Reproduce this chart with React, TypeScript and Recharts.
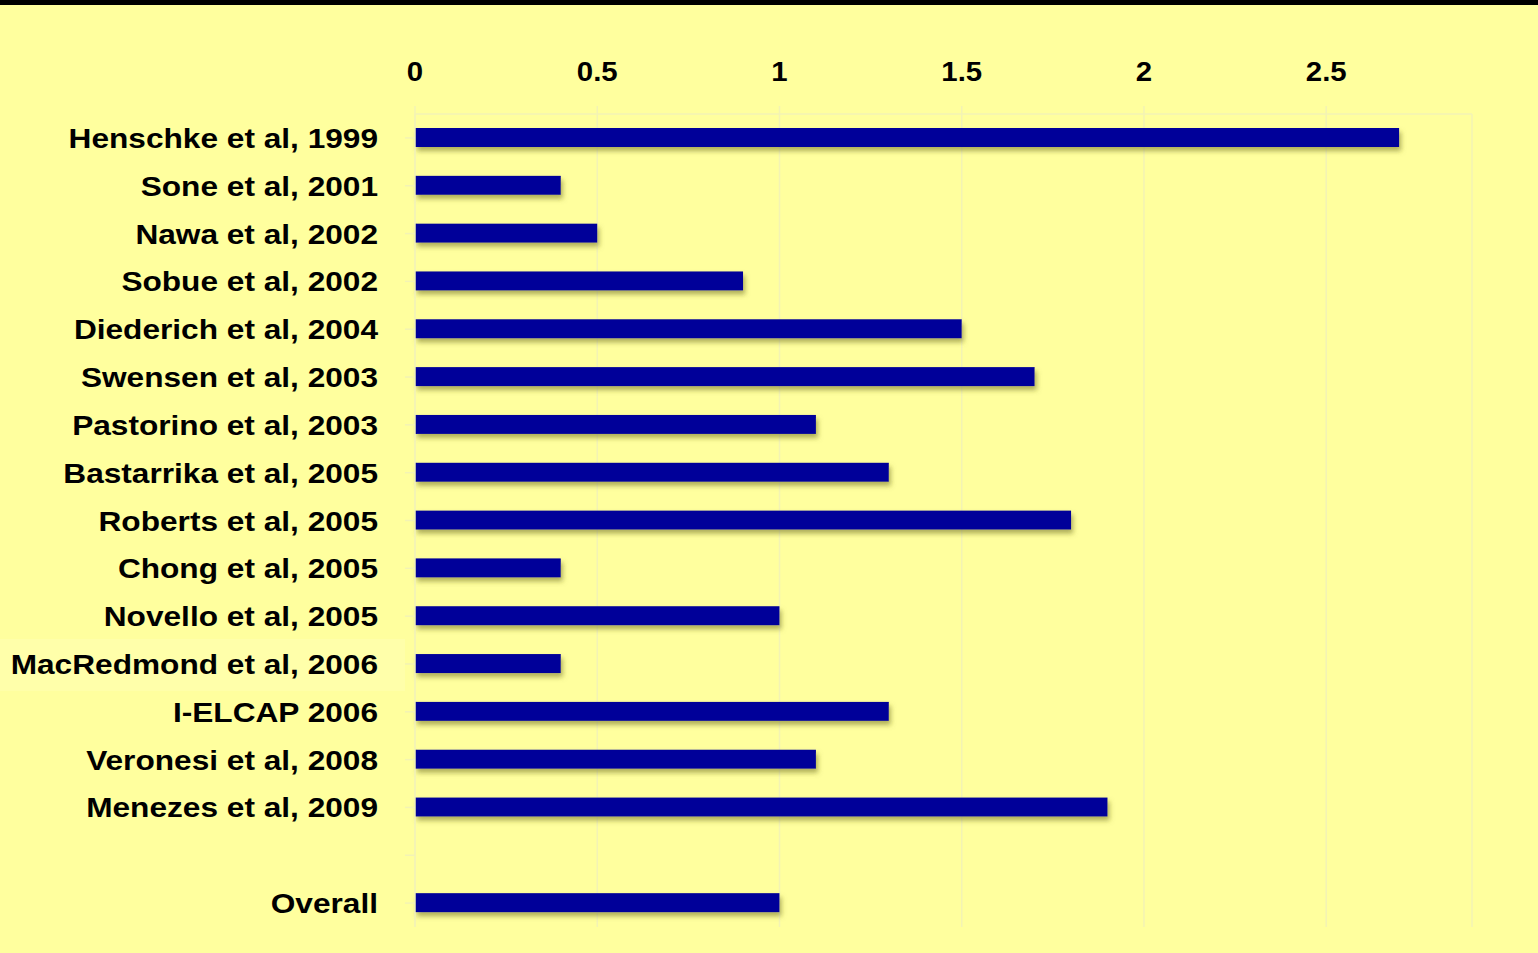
import React from 'react';
import { BarChart, Bar, XAxis, YAxis, CartesianGrid } from 'recharts';

const studies = [
  'Henschke et al, 1999',
  'Sone et al, 2001',
  'Nawa et al, 2002',
  'Sobue et al, 2002',
  'Diederich et al, 2004',
  'Swensen et al, 2003',
  'Pastorino et al, 2003',
  'Bastarrika et al, 2005',
  'Roberts et al, 2005',
  'Chong et al, 2005',
  'Novello et al, 2005',
  'MacRedmond et al, 2006',
  'I-ELCAP 2006',
  'Veronesi et al, 2008',
  'Menezes et al, 2009',
  '',
  'Overall',
];

const values = [2.7, 0.4, 0.5, 0.9, 1.5, 1.7, 1.1, 1.3, 1.8, 0.4, 1.0, 0.4, 1.3, 1.1, 1.9, null, 1.0];

const xTicks = [0, 0.5, 1, 1.5, 2, 2.5];

const highlighted = ['MacRedmond et al, 2006'];

const data = studies.map((name, i) => ({ name, value: values[i] }));

const FONT = '"Liberation Sans", Arial, sans-serif';
const BG = '#FFFF9E';
const GRID = '#F3F3B4';

const XTick = (props: any) => {
  const { x, y, payload } = props;
  return (
    <text
      transform={`translate(${x},${y}) scale(1.05,1)`}
      textAnchor="middle"
      fontFamily={FONT}
      fontWeight="bold"
      fontSize={28}
      fill="#000"
    >
      {payload.value}
    </text>
  );
};

const YTick = (props: any) => {
  const { x, y, payload } = props;
  const hl = highlighted.includes(payload.value);
  return (
    <g>
      {hl && <rect x={0} y={y - 25} width={405} height={52} fill="#FFFFAA" />}
      <text
        transform={`translate(${x},${y + 10}) scale(1.13,1)`}
        textAnchor="end"
        fontFamily={FONT}
        fontWeight="bold"
        fontSize={28}
        fill="#000"
      >
        {payload.value}
      </text>
    </g>
  );
};

const ShadowBar = (props: any) => {
  const { x, y, width, height, fill } = props;
  if (!width || width <= 0) return null;
  return (
    <g>
      <defs>
        <filter id="barShadow" x="-5%" y="-50%" width="110%" height="200%">
          <feDropShadow dx="2" dy="4" stdDeviation="2.5" floodColor="#6E6E20" floodOpacity="0.55" />
        </filter>
      </defs>
      <rect x={x} y={y} width={width} height={height} fill={fill} filter="url(#barShadow)" />
    </g>
  );
};

export default function App() {
  return (
    <div style={{ position: 'absolute', left: 0, top: 0, width: 1538, height: 953, background: BG }}>
      <div style={{ position: 'absolute', left: 0, top: 0, width: 1538, height: 5, background: '#000' }} />
      <BarChart
        width={1538}
        height={953}
        data={data}
        layout="vertical"
        margin={{ top: 0, right: 66, bottom: 26, left: 0 }}
        barCategoryGap={0}
      >
        <CartesianGrid horizontal={false} stroke={GRID} strokeWidth={1.5} />
        <XAxis
          type="number"
          orientation="top"
          domain={[0, 2.9]}
          ticks={xTicks}
          height={114}
          axisLine={{ stroke: GRID, strokeWidth: 1.5 }}
          tickLine={{ stroke: GRID, strokeWidth: 1.5 }}
          tickSize={8}
          tickMargin={25}
          tick={<XTick />}
          interval={0}
        />
        <YAxis
          type="category"
          dataKey="name"
          width={415}
          axisLine={{ stroke: GRID, strokeWidth: 1.5 }}
          tickLine={{ stroke: GRID, strokeWidth: 1.5 }}
          tickSize={10}
          tickMargin={27}
          tick={<YTick />}
          interval={0}
        />
        <Bar dataKey="value" fill="#000099" barSize={19} shape={<ShadowBar />} isAnimationActive={false} />
      </BarChart>
    </div>
  );
}
